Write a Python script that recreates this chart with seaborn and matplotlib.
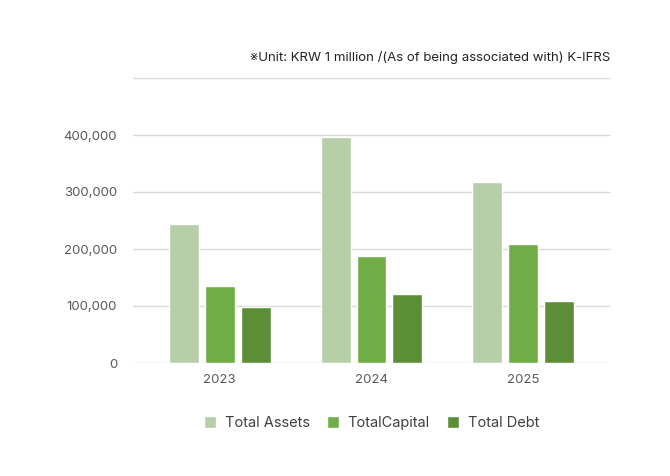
import pandas as pd
import seaborn as sns
import matplotlib.pyplot as plt

years = ['2023', '2024', '2025']
series = ['Total Assets', 'TotalCapital', 'Total Debt']
total_assets = [244000, 396000, 317000]
total_capital = [135000, 188000, 209000]
total_debt = [98000, 121000, 109000]
colors = ['#b6cfa8', '#70ad47', '#5b8e37']

df = pd.DataFrame({
    'year': years * 3,
    'series': [s for s in series for _ in years],
    'value': total_assets + total_capital + total_debt,
})

sns.set_style('white')
plt.rcParams['font.family'] = ['Inter', 'DejaVu Sans']

fig = plt.figure(figsize=(6.7, 4.76), dpi=100)
ax = fig.add_axes([133 / 670, 113 / 476, 477 / 670, 285 / 476])

sns.barplot(data=df, x='year', y='value', hue='series', palette=colors,
            width=0.71, gap=0.167, saturation=1, ax=ax, legend=True)

ax.set_ylim(0, 500000)
ax.set_xlim(-0.57, 2.57)
ax.set_yticks([0, 100000, 200000, 300000, 400000, 500000])
ax.set_yticklabels(['0', '100,000', '200,000', '300,000', '400,000', ''])
ax.yaxis.grid(True, color='#d9d9d9', linewidth=1)
ax.set_axisbelow(True)
for s in ax.spines.values():
    s.set_visible(False)
ax.tick_params(axis='both', length=0, labelsize=9.5, colors='#595959')
ax.tick_params(axis='y', pad=11.5)
ax.tick_params(axis='x', pad=8)
ax.set_xlabel('')
ax.set_ylabel('')

ax.legend(loc='upper center', bbox_to_anchor=(0.5, -0.14), ncol=3, frameon=False,
          fontsize=10.5, handlelength=0.8, handleheight=0.8, columnspacing=1.2,
          handletextpad=0.6, labelcolor='#404040')

fig.text(610 / 670, 1 - 57 / 476, '※Unit: KRW 1 million /(As of being associated with) K-IFRS',
         ha='right', va='center', fontsize=9.5, color='#222222')

plt.savefig('out.png', dpi=100)
plt.close()
